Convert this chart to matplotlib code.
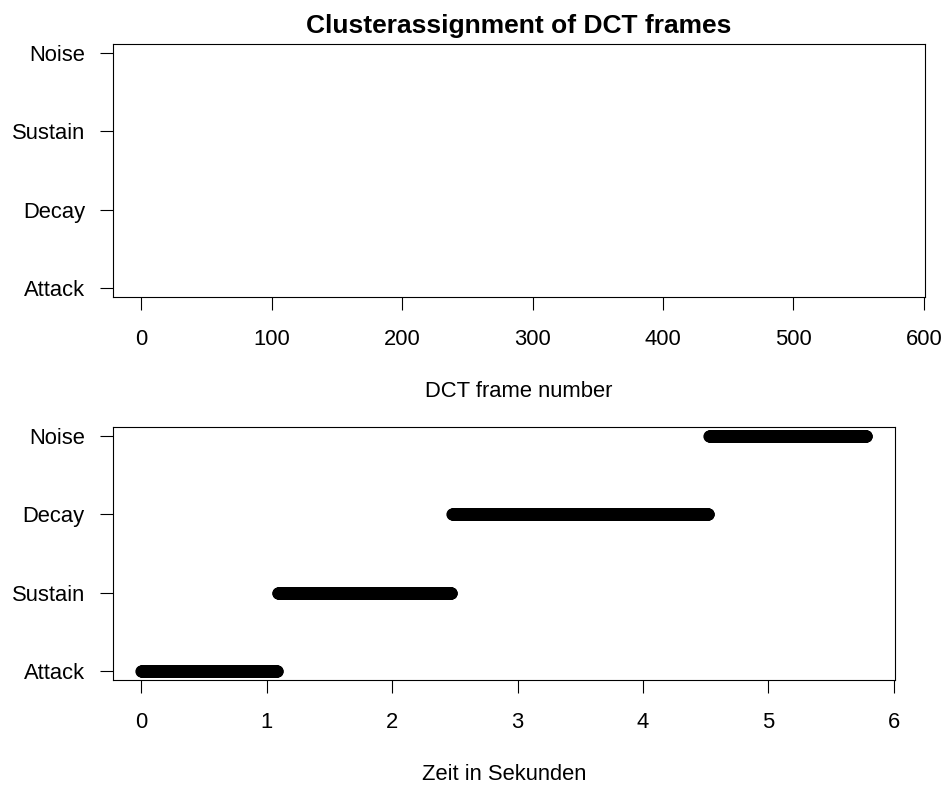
import numpy as np
import matplotlib
matplotlib.use("Agg")
import matplotlib.pyplot as plt

plt.rcParams['font.family'] = ['Liberation Sans', 'DejaVu Sans']

# Top panel (empty frame plot)
top_title = "Clusterassignment of DCT frames"
top_xlabel = "DCT frame number"
top_xticks = [0, 100, 200, 300, 400, 500, 600]
top_ylabels = ["Attack", "Decay", "Sustain", "Noise"]   # y = 1..4

# Bottom panel: cluster assignment over time
bottom_xlabel = "Zeit in Sekunden"
bottom_xticks = [0, 1, 2, 3, 4, 5, 6]
bottom_ylabels = ["Attack", "Sustain", "Decay", "Noise"]  # y = 1..4
sample_step = 0.002                       # seconds between plotted samples
seg_start_time = [0.00, 1.09, 2.48, 4.53]  # start of each cluster segment (s)
seg_end_time = [1.08, 2.47, 4.52, 5.78]    # end of each cluster segment (s)
seg_cluster = [1, 2, 3, 4]                 # y level (index into bottom_ylabels)

FS = 15.8
fig = plt.figure(figsize=(9.44, 7.87), dpi=100)

def style(ax):
    for s in ax.spines.values():
        s.set_linewidth(0.8)
    ax.tick_params(axis='both', length=9.4, width=0.8, labelsize=FS, direction='out')
    ax.tick_params(axis='x', pad=14)
    ax.tick_params(axis='y', pad=10.5)

# ---- top ----
ax1 = fig.add_axes([113/944, 1-297/787, (925-113)/944, (297-44)/787])
ax1.set_xlim(-21.5, 600.8)
ax1.set_ylim(1-0.12, 4+0.12)
ax1.set_xticks(top_xticks)
ax1.set_yticks([1, 2, 3, 4])
ax1.set_yticklabels(top_ylabels)
ax1.set_title(top_title, fontsize=19, fontweight='bold', pad=8)
ax1.set_xlabel(top_xlabel, fontsize=FS, va='center')
ax1.xaxis.set_label_coords(0.5, -95/253)
style(ax1)

# ---- bottom ----
ax2 = fig.add_axes([112.5/944, 1-680/787, (895-112.5)/944, (680-427)/787])
for t0, t1, c in zip(seg_start_time, seg_end_time, seg_cluster):
    n = int(round((t1 - t0) / sample_step)) + 1
    t = np.linspace(t0, t1, n)
    ax2.plot(t, np.full(len(t), c), linestyle='none', marker='o',
             markersize=7.9, markerfacecolor='none', markeredgecolor='black',
             markeredgewidth=0.9)
ax2.set_xlim(-0.231, 6.011)
ax2.set_ylim(1-0.12, 4+0.12)
ax2.set_xticks(bottom_xticks)
ax2.set_yticks([1, 2, 3, 4])
ax2.set_yticklabels(bottom_ylabels)
ax2.set_xlabel(bottom_xlabel, fontsize=FS, va='center')
ax2.xaxis.set_label_coords(0.5, -95/253)
style(ax2)

fig.savefig("out.png", dpi=100)
